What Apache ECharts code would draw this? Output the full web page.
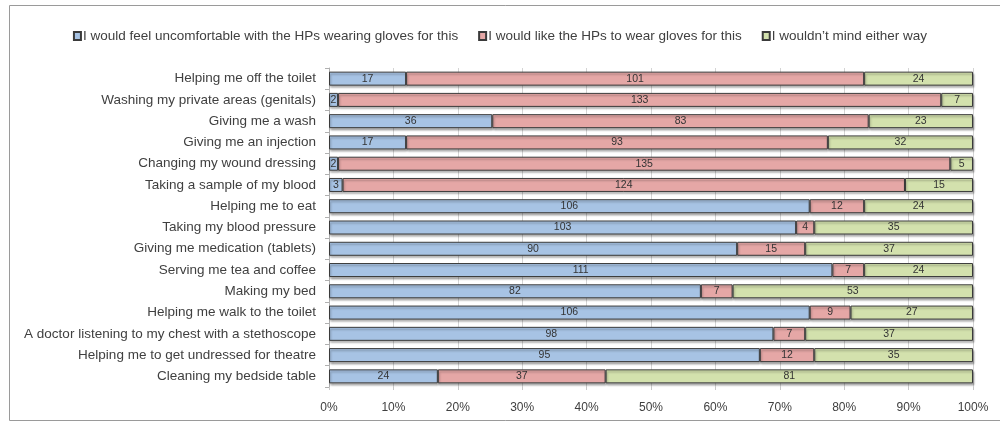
<!DOCTYPE html>
<html><head><meta charset="utf-8">
<script src="https://cdn.jsdelivr.net/npm/echarts@6/dist/echarts.min.js"></script>
<style>html,body{margin:0;padding:0;background:#fff}#c{width:1000px;height:424px}</style>
</head><body><div id="c"></div>
<script>
const categories = [
  "Helping me off the toilet",
  "Washing my private areas (genitals)",
  "Giving me a wash",
  "Giving me an injection",
  "Changing my wound dressing",
  "Taking a sample of my blood",
  "Helping me to eat",
  "Taking my blood pressure",
  "Giving me medication (tablets)",
  "Serving me tea and coffee",
  "Making my bed",
  "Helping me walk to the toilet",
  "A doctor listening to my chest with a stethoscope",
  "Helping me to get undressed for theatre",
  "Cleaning my bedside table"
];
const seriesNames = [
  "I would feel uncomfortable with the HPs wearing gloves for this",
  "I would like the HPs to wear gloves for this",
  "I wouldn\u2019t mind either way"
];
const uncomfortable = [17, 2, 36, 17, 2, 3, 106, 103, 90, 111, 82, 106, 98, 95, 24];
const likeGloves   = [101, 133, 83, 93, 135, 124, 12, 4, 15, 7, 7, 9, 7, 12, 37];
const dontMind     = [24, 7, 23, 32, 5, 15, 24, 35, 37, 24, 53, 27, 37, 35, 81];
const xTickLabels = ["0%","10%","20%","30%","40%","50%","60%","70%","80%","90%","100%"];

const colors = ["#a7c3e4", "#e5a7a6", "#d3e1ad"];
const raw = [uncomfortable, likeGloves, dontMind];
const totals = categories.map((_, i) => uncomfortable[i] + likeGloves[i] + dontMind[i]);
const FONT = "Liberation Sans";

const chart = echarts.init(document.getElementById('c'));
chart.setOption({
  animation: false,
  textStyle: { fontFamily: FONT },
  graphic: [{
    type: 'rect', shape: { x: 9.5, y: 5.5, width: 1000, height: 415 },
    style: { fill: 'none', stroke: '#9a9a9a', lineWidth: 1 }, silent: true, z: -1
  }],
  legend: {
    top: 24, left: 'center', itemWidth: 7, itemHeight: 8, itemGap: 20,
    icon: 'rect',
    textStyle: { fontFamily: FONT, fontSize: 13.5, color: '#404040', padding: [0, 0, 0, -3] },
    data: seriesNames
  },
  grid: { left: 329, right: 27, top: 68, bottom: 37, containLabel: false },
  xAxis: {
    type: 'value', min: 0, max: 100, interval: 10,
    axisLine: { show: false },
    axisTick: { show: true, length: 3, lineStyle: { color: '#c8c8c8' } },
    splitLine: { show: true, lineStyle: { color: '#d4d4d4' } },
    axisLabel: { formatter: (v) => xTickLabels[Math.round(v / 10)], color: '#404040', fontSize: 12, fontFamily: FONT, margin: 15 }
  },
  yAxis: {
    type: 'category', data: categories, inverse: true,
    axisLine: { show: true, lineStyle: { color: '#b0b0b0' } },
    axisTick: { show: true, length: 4, lineStyle: { color: '#b0b0b0' } },
    axisLabel: { color: '#404040', fontSize: 13.5, fontFamily: FONT, margin: 13 }
  },
  series: raw.map((arr, s) => ({
    name: seriesNames[s], type: 'bar', stack: 'total', barWidth: 14,
    data: arr.map((v, i) => ({ value: v / totals[i] * 100 })),
    itemStyle: {
      color: colors[s], borderColor: '#3a3a3a', borderWidth: 1,
      shadowColor: 'rgba(0,0,0,0.3)', shadowBlur: 2, shadowOffsetY: 2, shadowOffsetX: 1
    },
    label: {
      show: true, position: 'inside', color: '#333', fontSize: 10.5, fontFamily: FONT,
      formatter: (p) => arr[p.dataIndex]
    }
  }))
});
</script></body></html>
